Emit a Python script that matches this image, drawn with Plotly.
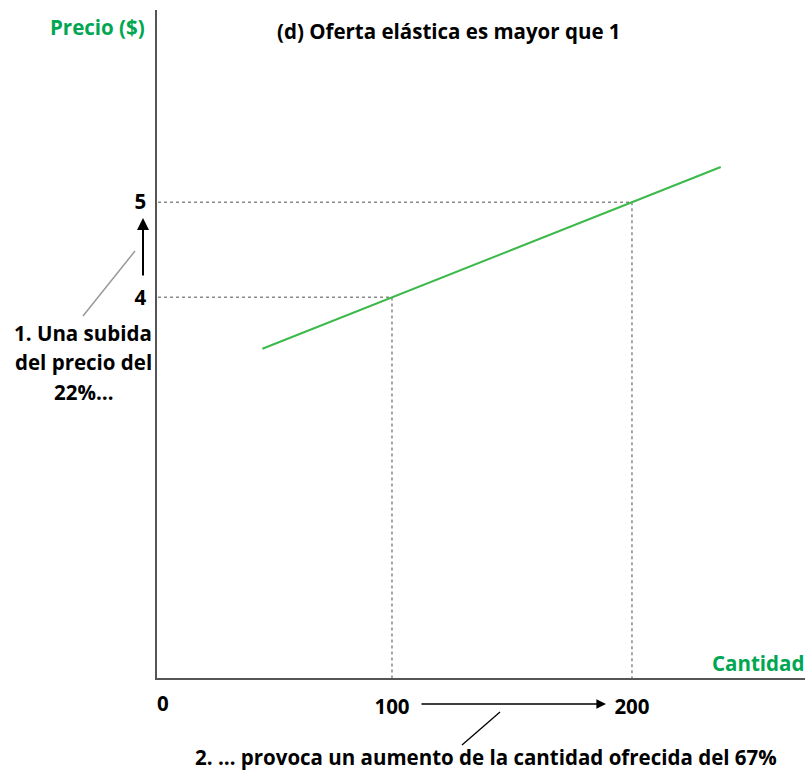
import plotly.graph_objects as go

# Data
supply_q = [46, 237]
supply_p = [3.46, 5.37]
points_q = [100, 200]
points_p = [4, 5]
x_tick_vals = [100, 200]
x_tick_text = ["100", "200"]
y_tick_vals = [4, 5]
y_tick_text = ["4", "5"]
note1_lines = ["1. Una subida", "del precio del", "22%…"]
note2 = "2. … provoca un aumento de la cantidad ofrecida del 67%"

W, H = 809, 771
ML, MR, MT, MB = 157, 4, 10, 93
PW, PH = W - ML - MR, H - MT - MB

def px(x):
    return (x - ML) / PW

def py(y):
    return (H - MB - y) / PH

GREEN = "#00a651"
LINEGREEN = "#3cb94a"
FONT = "Open Sans"
FS = 20.5

fig = go.Figure()

# dotted guides
for q, p in zip(points_q, points_p):
    fig.add_trace(go.Scatter(x=[0, q, q], y=[p, p, 0], mode="lines",
                             line=dict(color="#8a8a8a", width=1.5, dash="dot"),
                             hoverinfo="skip", showlegend=False, cliponaxis=False))

fig.add_trace(go.Scatter(x=supply_q, y=supply_p, mode="lines",
                         line=dict(color=LINEGREEN, width=2), showlegend=False))

tickfont = dict(family=FONT, size=FS, color="black", weight="bold")
fig.update_xaxes(range=[2.08, 272.1], showgrid=False, zeroline=False,
                 showline=True, linecolor="#555555", linewidth=1.5,
                 tickvals=x_tick_vals, ticktext=x_tick_text, ticks="",
                 tickfont=tickfont, ticklabelstandoff=10)
fig.update_yaxes(range=[0, 7.02], showgrid=False, zeroline=False,
                 showline=True, linecolor="#555555", linewidth=1.5,
                 tickvals=y_tick_vals, ticktext=y_tick_text, ticks="",
                 tickfont=tickfont, ticklabelstandoff=5)

bold = dict(family=FONT, size=FS, color="black", weight="bold")
green = dict(family=FONT, size=FS, color=GREEN, weight="bold")
ann = [
    dict(text="(d) Oferta elástica es mayor que 1", x=px(449), y=py(31), font=bold),
    dict(text="Precio ($)", x=px(147), y=py(27), xanchor="right", font=green),
    dict(text="Cantidad", x=px(806), y=py(663), xanchor="right", font=green),
    dict(text="0", x=px(163), y=py(703), font=bold),
    dict(text=note2, x=px(486), y=py(757), font=bold),
]
for txt, yy in zip(note1_lines, [333, 362, 392]):
    ann.append(dict(text=txt, x=px(83), y=py(yy), font=bold))
for a in ann:
    a.update(xref="paper", yref="paper", showarrow=False)
    a.setdefault("xanchor", "center")
    a.setdefault("yanchor", "middle")

# arrows
ann.append(dict(x=px(143), y=py(218), xref="paper", yref="paper",
                ax=0, ay=59, axref="pixel", ayref="pixel", text="",
                showarrow=True, arrowhead=2, arrowsize=1.2, arrowwidth=2,
                arrowcolor="black"))
ann.append(dict(x=px(606), y=py(704), xref="paper", yref="paper",
                ax=-186, ay=0, axref="pixel", ayref="pixel", text="",
                showarrow=True, arrowhead=2, arrowsize=1.2, arrowwidth=1.6,
                arrowcolor="black"))

shapes = [
    dict(type="line", xref="paper", yref="paper", x0=px(83), y0=py(316),
         x1=px(135), y1=py(251), line=dict(color="#999999", width=1.5)),
    dict(type="line", xref="paper", yref="paper", x0=px(500), y0=py(712),
         x1=px(462), y1=py(745), line=dict(color="black", width=1.3)),
]

fig.update_layout(width=W, height=H, margin=dict(l=ML, r=MR, t=MT, b=MB),
                  plot_bgcolor="white", paper_bgcolor="white",
                  annotations=ann, shapes=shapes)

fig.write_html("out.html", config={"displayModeBar": False},
               post_script="document.body.style.margin='0';document.body.style.overflow='hidden';")
